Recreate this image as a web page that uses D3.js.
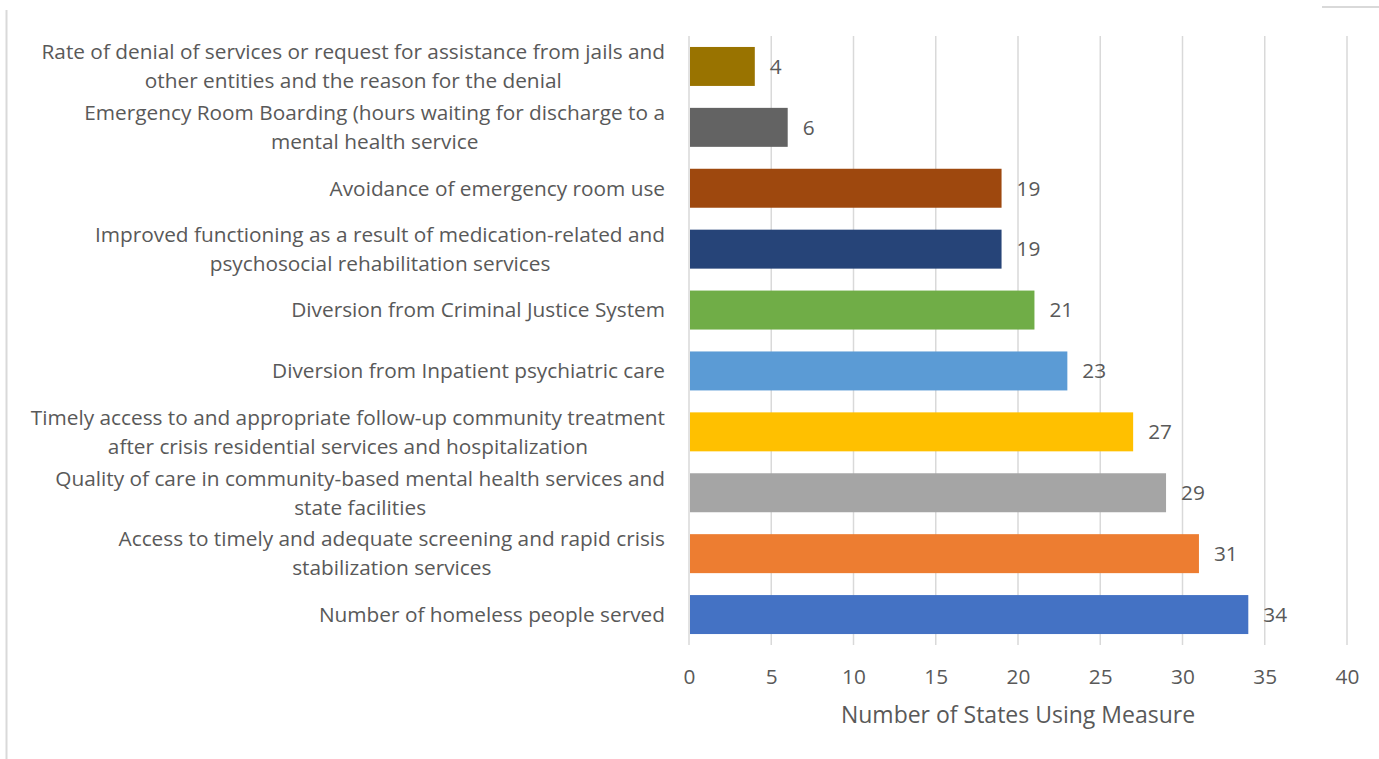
<!DOCTYPE html>
<html>
<head>
<meta charset="utf-8">
<script src="https://cdn.jsdelivr.net/npm/d3@7"></script>
<style>
  body { margin: 0; background: #fff; }
  text { font-family: "Open Sans", Lato, sans-serif; fill: #595959; }
</style>
</head>
<body>
<div class="chart"></div>
<script>
// categories, top to bottom, each split into its printed lines
const measures = [
    ["Rate of denial of services or request for assistance from jails and", "other entities and the reason for the denial"],
    ["Emergency Room Boarding (hours waiting for discharge to a", "mental health service"],
    ["Avoidance of emergency room use"],
    ["Improved functioning as a result of medication-related and", "psychosocial rehabilitation services"],
    ["Diversion from Criminal Justice System"],
    ["Diversion from Inpatient psychiatric care"],
    ["Timely access to and appropriate follow-up community treatment", "after crisis residential services and hospitalization"],
    ["Quality of care in community-based mental health services and", "state facilities"],
    ["Access to timely and adequate screening and rapid crisis", "stabilization services"],
    ["Number of homeless people served"]
];
const states = [4, 6, 19, 19, 21, 23, 27, 29, 31, 34];
const barColors = ["#997300", "#636363", "#9E480E", "#264478", "#70AD47",
                   "#5B9BD5", "#FFC000", "#A5A5A5", "#ED7D31", "#4472C4"];
const xTicks = [0, 5, 10, 15, 20, 25, 30, 35, 40];

const width = 1379, height = 759;
const margin = {top: 36, left: 689, right: 32, bottom: 114};
const innerW = width - margin.left - margin.right;
const innerH = height - margin.top - margin.bottom;
const fontSize = '20.8px';

const svg = d3.select('.chart').append('svg')
    .attr('width', width)
    .attr('height', height);

// frame bits from the surrounding page
svg.append('line')
    .attr('x1', 6.5).attr('x2', 6.5).attr('y1', 10).attr('y2', height)
    .attr('stroke', '#d9d9d9').attr('stroke-width', 2);
svg.append('line')
    .attr('x1', 1322).attr('x2', width).attr('y1', 7).attr('y2', 7)
    .attr('stroke', '#d9d9d9').attr('stroke-width', 2);

const g = svg.append('g')
    .attr('transform', `translate(${margin.left},${margin.top})`);

const xScale = d3.scaleLinear().domain([0, 40]).range([0, innerW]);
const yScale = d3.scaleBand()
    .domain(d3.range(measures.length))
    .range([0, innerH])
    .paddingInner(0.36)
    .paddingOuter(0.18);

// gridlines
g.append('g')
    .selectAll('line')
    .data(xTicks)
    .enter()
    .append('line')
    .attr('x1', d => xScale(d)).attr('x2', d => xScale(d))
    .attr('y1', 0).attr('y2', innerH)
    .attr('stroke', '#d9d9d9').attr('stroke-width', 1.5);

// bars
g.selectAll('.bar')
    .data(states)
    .enter()
    .append('rect')
    .attr('class', 'bar')
    .attr('x', xScale(0) + 1)
    .attr('y', (d, i) => yScale(i))
    .attr('width', d => xScale(d) - xScale(0) - 1)
    .attr('height', yScale.bandwidth())
    .attr('fill', (d, i) => barColors[i]);

// value labels
g.selectAll('.val')
    .data(states)
    .enter()
    .append('text')
    .attr('class', 'val')
    .attr('x', d => xScale(d) + 15)
    .attr('y', (d, i) => yScale(i) + yScale.bandwidth() / 2)
    .attr('dy', '0.35em')
    .style('font-size', fontSize)
    .text(d => d);

// category labels: lines centred on each other, block right-aligned
const lineH = 29;
const labelRight = -24;
g.selectAll('.cat')
    .data(measures)
    .enter()
    .append('text')
    .attr('class', 'cat')
    .attr('text-anchor', 'middle')
    .style('font-size', fontSize)
    .each(function(lines, i) {
        const cy = yScale(i) + yScale.bandwidth() / 2;
        const start = cy - (lines.length - 1) * lineH / 2;
        const spans = d3.select(this).selectAll('tspan')
            .data(lines)
            .enter()
            .append('tspan')
            .attr('x', 0)
            .attr('y', (l, j) => start + j * lineH)
            .attr('dy', '0.35em')
            .text(l => l);
        const maxW = d3.max(spans.nodes(), n => n.getComputedTextLength());
        spans.attr('x', labelRight - maxW / 2);
    });

// x axis
const xAxis = d3.axisBottom(xScale).tickValues(xTicks).tickSize(0).tickPadding(24);
const ax = g.append('g')
    .attr('transform', `translate(0,${innerH})`)
    .call(xAxis);
ax.select('.domain').remove();
ax.selectAll('text')
    .style('font-size', fontSize)
    .attr('fill', '#595959')
    .style('font-family', '"Open Sans", Lato, sans-serif');

svg.append('text')
    .attr('x', margin.left + xScale(20))
    .attr('y', 715)
    .attr('dy', '0.35em')
    .attr('text-anchor', 'middle')
    .style('font-size', '23px')
    .text('Number of States Using Measure');
</script>
</body>
</html>
